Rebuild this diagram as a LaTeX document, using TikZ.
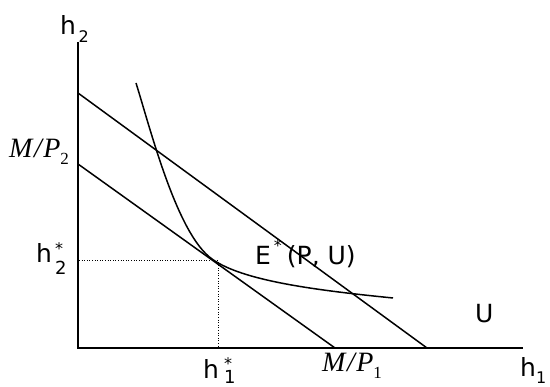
\documentclass[tikz,border=0pt]{standalone}
\usepackage[no-math]{fontspec}
\setmainfont{DejaVu Sans}
\newfontfamily\serifM{Liberation Serif}
\newcommand{\starsub}[4]{\kern#1\rlap{\raisebox{#2}{\fontsize{16}{16}\selectfont *}}\raisebox{#3}{\fontsize{18}{18}\selectfont #4}}
\newcommand{\plainsub}[3]{\kern#1\raisebox{#2}{\fontsize{16}{16}\selectfont #3}}
\begin{document}
\begin{tikzpicture}[x=1pt,y=1pt,
  axisline/.style={line width=1.8pt},
  budget/.style={line width=1.5pt},
  indiff/.style={line width=1.5pt},
  guide/.style={line width=1pt, dash pattern=on 1pt off 1.6pt},
  lbl/.style={inner sep=0pt, anchor=base west, font=\fontsize{25}{25}\selectfont},
  mlbl/.style={inner sep=0pt, anchor=base west, font=\serifM\fontsize{28}{28}\selectfont}]
\useasboundingbox (0,0) rectangle (550,387);
% axes
\coordinate (ytop) at (78,345);
\coordinate (O) at (78,39);
\coordinate (xend) at (523,39);
\draw[axisline] (ytop) -- (O) -- (xend);
% budget lines
\coordinate (B1a) at (78,294);
\coordinate (B1b) at (427,39);
\coordinate (B2a) at (78,223);
\coordinate (B2b) at (335,39);
\draw[budget] (B1a) -- (B1b);
\draw[budget] (B2a) -- (B2b);
% indifference curve
\coordinate (Ustart) at (136,304);
\coordinate (T) at (212,128);
\coordinate (Uend) at (393,89);
\draw[indiff] (Ustart) .. controls (151,256) and (177,153) .. (T)
  .. controls (242,106.5) and (313,97) .. (Uend);
% dotted guides
\coordinate (hstar) at (79,126);
\coordinate (E) at (218,126);
\coordinate (vstar) at (218,40);
\draw[guide] (hstar) -- (E) -- (vstar);
% labels
\node[lbl] (h2top) at (60,352) {h\plainsub{2.5pt}{-8pt}{2}};
\node[lbl] (h2s) at (36,124) {h\starsub{3pt}{8pt}{-12pt}{2}};
\node[lbl] (h1s) at (203,8) {h\starsub{5pt}{9pt}{-5pt}{1}};
\node[lbl] (h1) at (520,10) {h\plainsub{0pt}{-7pt}{1}};
\node[lbl] (Elbl) at (255,122) {E\kern3pt\raisebox{13pt}{\fontsize{16}{16}\selectfont *}\kern5pt(P, U)};
\node[lbl] (Ulbl) at (475,64) {U};
\node[mlbl] (mp2) at (9,229) {\itshape M\kern1.5pt/\kern1.5pt P\raisebox{-7pt}{\upshape\fontsize{17}{17}\selectfont 2}};
\node[mlbl] (mp1) at (322,15) {\itshape M\kern1.5pt/\kern1.5pt P\raisebox{-7pt}{\upshape\fontsize{17}{17}\selectfont 1}};
\end{tikzpicture}
\end{document}
